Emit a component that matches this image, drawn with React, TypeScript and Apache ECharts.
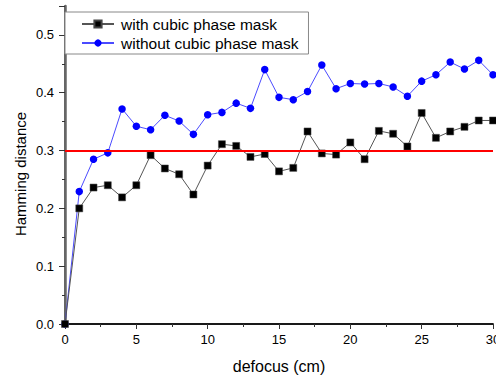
import React, { useEffect, useRef } from "react";
import * as echarts from "echarts";

const defocus = [0, 1, 2, 3, 4, 5, 6, 7, 8, 9, 10, 11, 12, 13, 14, 15, 16, 17, 18, 19, 20, 21, 22, 23, 24, 25, 26, 27, 28, 29, 30];
const withMask = [0, 0.2, 0.236, 0.24, 0.219, 0.24, 0.292, 0.269, 0.259, 0.224, 0.274, 0.311, 0.308, 0.289, 0.294, 0.264, 0.27, 0.333, 0.295, 0.293, 0.314, 0.285, 0.334, 0.329, 0.307, 0.365, 0.322, 0.333, 0.341, 0.352, 0.352];
const withoutMask = [0, 0.229, 0.285, 0.296, 0.372, 0.342, 0.336, 0.361, 0.351, 0.328, 0.362, 0.366, 0.382, 0.373, 0.44, 0.392, 0.388, 0.402, 0.448, 0.407, 0.416, 0.415, 0.416, 0.41, 0.394, 0.42, 0.431, 0.453, 0.441, 0.456, 0.431];
const threshold = 0.3;
const seriesNames = ["with cubic phase mask", "without cubic phase mask"];
const xName = "defocus (cm)";
const yName = "Hamming distance";

const FONT = "'Liberation Sans', Arial, sans-serif";

export default function App() {
  const ref = useRef<HTMLDivElement>(null);
  useEffect(() => {
    document.body.style.margin = "0";
    document.body.style.overflow = "hidden";
    const chart = echarts.init(ref.current!, null, { renderer: "svg" });
    const pairs = (ys: number[]) => defocus.map((x, i) => [x, ys[i]]);
    chart.setOption({
      animation: false,
      backgroundColor: "#fff",
      textStyle: { fontFamily: FONT },
      grid: { left: 65, right: 3, top: 6, bottom: 51, containLabel: false, outerBoundsMode: "none" },
      legend: {
        left: 65,
        top: 12,
        orient: "vertical",
        itemWidth: 32,
        itemHeight: 9,
        itemGap: 3,
        padding: [4, 10, 3, 16],
        borderColor: "#888",
        borderWidth: 1,
        backgroundColor: "#fff",
        textStyle: { fontSize: 15.5, color: "#000", fontFamily: FONT, padding: [0, 0, 0, 2] },
        data: seriesNames,
      },
      xAxis: [
        {
          type: "value",
          min: 0,
          max: 30,
          interval: 5,
          name: xName,
          nameLocation: "middle",
          nameGap: 34,
          nameTextStyle: { fontSize: 16, color: "#000", fontFamily: FONT },
          axisLine: { show: true, lineStyle: { color: "#333", width: 1.5 } },
          axisTick: { show: true, length: 5, inside: false, lineStyle: { color: "#333", width: 1 } },
          minorTick: { show: true, splitNumber: 2, length: 3, lineStyle: { color: "#333", width: 1 } },
          axisLabel: { fontSize: 13, color: "#000", margin: 9, fontFamily: FONT },
          splitLine: { show: false },
        },
        {
          type: "value",
          position: "top",
          min: 0,
          max: 30,
          interval: 5,
          axisLine: { show: true, lineStyle: { color: "#000", width: 1.5 } },
          axisTick: { show: false },
          axisLabel: { show: false },
          splitLine: { show: false },
        },
      ],
      yAxis: [
        {
          type: "value",
          min: 0,
          max: 0.55,
          interval: 0.1,
          axisLine: { show: true, lineStyle: { color: "#333", width: 1.5 } },
          axisTick: { show: true, length: 6, lineStyle: { color: "#333", width: 1 } },
          minorTick: { show: true, splitNumber: 2, length: 3, lineStyle: { color: "#333", width: 1 } },
          axisLabel: {
            fontSize: 13,
            color: "#000",
            margin: 11,
            fontFamily: FONT,
            showMaxLabel: false,
            formatter: (v: number) => v.toFixed(1),
          },
          splitLine: { show: false },
        },
        {
          type: "value",
          position: "right",
          min: 0,
          max: 0.55,
          axisLine: { show: true, lineStyle: { color: "#666", width: 2.5 } },
          axisTick: { show: false },
          axisLabel: { show: false },
          splitLine: { show: false },
        },
      ],
      graphic: [
        {
          type: "text",
          x: 20,
          y: 174,
          rotation: Math.PI / 2,
          style: {
            text: yName,
            fontSize: 15,
            fontFamily: FONT,
            fill: "#000",
            align: "center",
            verticalAlign: "middle",
          },
        },
      ],
      series: [
        {
          name: "threshold",
          type: "line",
          data: [],
          z: 1,
          silent: true,
          markLine: {
            silent: true,
            symbol: ["none", "none"],
            label: { show: false },
            lineStyle: { color: "#ff0000", width: 2, type: "solid" },
            data: [{ yAxis: threshold }],
          },
        },
        {
          name: seriesNames[0],
          type: "line",
          data: pairs(withMask),
          z: 3,
          symbol: "rect",
          symbolSize: 7,
          showAllSymbol: true,
          itemStyle: { color: "#000", borderColor: "#444", borderWidth: 0.5 },
          lineStyle: { color: "#555", width: 1 },
        },
        {
          name: seriesNames[1],
          type: "line",
          data: pairs(withoutMask),
          z: 2,
          symbol: "circle",
          symbolSize: 7.5,
          showAllSymbol: true,
          itemStyle: { color: "#0000ff", borderWidth: 0 },
          lineStyle: { color: "#4b4bff", width: 1 },
        },
      ],
    });
    return () => chart.dispose();
  }, []);
  return <div ref={ref} style={{ width: 496, height: 375, position: "absolute", left: 0, top: 0, overflow: "hidden" }} />;
}
